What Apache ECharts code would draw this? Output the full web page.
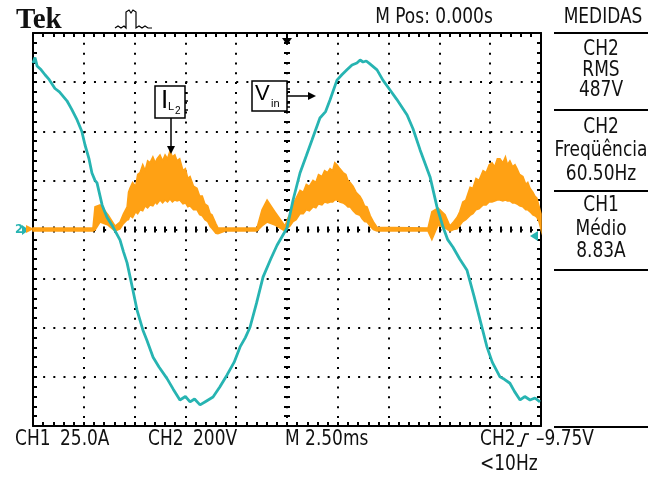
<!DOCTYPE html>
<html>
<head>
<meta charset="utf-8">
<script src="https://cdn.jsdelivr.net/npm/echarts@6/dist/echarts.min.js"></script>
<style>
  html, body { margin: 0; padding: 0; background: #fff; }
  #scope { width: 658px; height: 477px; }
</style>
</head>
<body>
<div id="scope"></div>
<script>
// CH2 - Vin (V), time in ms
const vinTime = [0, 0.1, 0.2, 0.4, 0.59, 0.8, 1.08, 1.3, 1.67, 1.9, 2.17, 2.4, 2.56, 2.75, 2.9, 3.05, 3.15, 3.4, 3.64, 3.94, 4.28, 4.45, 4.63, 4.9, 5.12, 5.41, 5.6, 5.91, 6.2, 6.59, 6.9, 7.23, 7.5, 7.73, 7.95, 8.22, 8.5, 8.86, 9.2, 9.55, 9.9, 10.19, 10.45, 10.68, 11.0, 11.32, 11.7, 12.01, 12.5, 12.8, 13.14, 13.45, 13.73, 14.12, 14.4, 14.62, 14.96, 15.2, 15.45, 15.7, 15.94, 16.1, 16.24, 16.4, 16.58, 16.93, 17.22, 17.57, 17.9, 18.41, 18.7, 19.05, 19.54, 19.88, 20.18, 20.4, 20.67, 21.0, 21.36, 21.7, 22.0, 22.34, 22.6, 22.98, 23.2, 23.47, 23.7, 23.97, 24.2, 24.46, 24.7, 24.95]
const vinVolts = [678, 700, 666, 650, 630, 610, 574, 560, 524, 490, 446, 400, 344, 290, 230, 200, 190, 100, 50, 10, -42, -90, -136, -240, -328, -410, -450, -520, -560, -606, -650, -694, -680, -702, -690, -714, -700, -682, -640, -592, -540, -478, -440, -398, -300, -194, -120, -64, 6, 120, 230, 300, 364, 454, 480, 528, 608, 630, 650, 670, 678, 690, 682, 686, 674, 650, 608, 568, 530, 466, 410, 324, 214, 92, 10, -40, -72, -120, -166, -270, -368, -478, -540, -600, -610, -626, -660, -694, -680, -694, -686, -702]

// CH1 - I_L2 (A), upper / lower edge of the switching ripple band
const ilTime = [0, 2.95, 3.05, 3.3, 3.69, 4.04, 4.28, 4.45, 4.63, 4.7, 4.77, 4.9, 5.05, 5.15, 5.27, 5.4, 5.52, 5.64, 5.76, 5.9, 6.02, 6.1, 6.25, 6.38, 6.5, 6.62, 6.74, 6.86, 6.98, 7.09, 7.22, 7.38, 7.5, 7.62, 7.73, 7.9, 8.07, 8.2, 8.33, 8.46, 8.6, 8.72, 8.81, 9.0, 9.1, 9.45, 11.02, 11.27, 11.52, 11.91, 12.4, 12.55, 12.65, 12.8, 12.95, 13.14, 13.3, 13.45, 13.6, 13.78, 13.92, 14.05, 14.22, 14.35, 14.5, 14.62, 14.75, 14.85, 14.96, 15.1, 15.26, 15.4, 15.5, 15.6, 15.75, 15.9, 16.09, 16.2, 16.32, 16.44, 16.6, 16.75, 16.93, 19.44, 19.63, 19.93, 20.28, 20.52, 20.7, 20.87, 21.0, 21.15, 21.3, 21.51, 21.65, 21.8, 21.95, 22.15, 22.3, 22.45, 22.59, 22.72, 22.85, 22.98, 23.12, 23.25, 23.35, 23.47, 23.6, 23.72, 23.82, 23.95, 24.11, 24.25, 24.35, 24.46, 24.6, 24.7, 24.8, 24.9, 25]
const ilUpper = [0.8, 0.8, 11.5, 12.5, 7.5, 1.8, 3.8, 8, 11.5, 19, 21, 24, 22, 28, 29, 33, 30, 35, 34, 37, 34, 36, 38, 35, 38, 36, 40, 37, 38, 35, 36, 30, 31, 26, 27, 22, 21, 17, 17, 13, 12, 8, 7.5, 3, 0.8, 0.8, 0.8, 10, 15, 9, 1.8, 6, 8, 13, 16, 20, 19, 23, 22, 25, 24, 28, 27, 30, 29, 31, 30, 34, 33, 31, 29, 28, 25, 24, 22, 19, 17, 15, 12, 11.5, 7, 4, 1.2, 0.8, 9, 11, 7.5, 1.8, 4, 6.2, 9, 14, 15, 21.5, 21, 26, 25, 30, 29, 33, 34, 32, 36, 36, 34, 37, 33, 35, 32, 33, 31, 28, 27, 23, 24, 21, 19, 17, 16, 12, 8]
const ilLower = [-0.8, -0.8, -0.3, 3.8, 2.2, -0.8, 0.3, 3, 4.8, 5, 7, 6, 9, 8, 10, 9.5, 12, 11, 12.5, 12, 14, 13, 15, 13.5, 15, 14, 15.5, 14, 15, 14.5, 15, 13, 13.5, 11.5, 12, 10, 10, 7.5, 7, 5, 4, 1.5, 0.5, -2, -2.2, -0.8, -0.8, 1.8, 3.8, 2.2, -0.8, 1, 1.8, 4, 5, 8, 8, 10, 9.5, 11.5, 11, 13, 12.5, 14, 13.5, 14, 14, 15, 15, 14, 13.5, 12.5, 11.5, 11.5, 9.5, 8, 7.2, 5.5, 4, 3.8, 1.5, 0, -0.8, -0.8, -5.2, 2.2, 0.8, -0.8, 0, 0.3, 2, 4, 5, 7.2, 8, 10, 10.5, 12.5, 12.5, 14, 14, 14.5, 15, 15, 14.5, 15, 14.5, 14.5, 13.5, 13.5, 13, 12, 11.5, 10, 10, 9, 7.5, 7, 6.2, 4, 0]

// scope settings
const msPerDiv = 2.5
const ampsPerDiv = 25
const voltsPerDiv = 200

const teal = '#27b4b2'
const orange = '#ffa114'
const narrow = 'Liberation Sans Narrow, DejaVu Sans Condensed, sans-serif'
const plain = 'Liberation Sans, Arial, sans-serif'

let chart = echarts.init(document.getElementById('scope'))

function frameX (pos) {
  return {
    type: 'value', min: 0, max: msPerDiv * 10, interval: msPerDiv, position: pos,
    axisLine: { show: true, onZero: false, lineStyle: { color: '#000', width: 2 } },
    axisTick: { show: true, inside: true, length: 4, lineStyle: { color: '#000', width: 2 } },
    minorTick: { show: true, splitNumber: 5, length: 4, lineStyle: { color: '#000', width: 2 } },
    axisLabel: { show: false },
    splitLine: { show: pos === 'bottom', lineStyle: { color: '#000', width: 2, type: [2, 7.82] } }
  }
}
function frameY (pos, perDiv) {
  return {
    type: 'value', min: -4 * perDiv, max: 4 * perDiv, interval: perDiv, position: pos,
    axisLine: { show: true, onZero: false, lineStyle: { color: '#000', width: 2 } },
    axisTick: { show: true, inside: true, length: 4, lineStyle: { color: '#000', width: 2 } },
    minorTick: { show: true, splitNumber: 5, length: 4, lineStyle: { color: '#000', width: 2 } },
    axisLabel: { show: false },
    splitLine: { show: pos === 'left', lineStyle: { color: '#000', width: 2, type: [2, 8.16] } }
  }
}
// center cross ticks (two axes each, ticks on both sides of the line)
function centerX (inside) {
  return {
    type: 'value', min: 0, max: msPerDiv * 10, interval: msPerDiv, position: 'bottom', offset: -196.5,
    axisLine: { show: false, onZero: false },
    axisTick: { show: true, inside: inside, length: 3, lineStyle: { color: '#000', width: 2 } },
    minorTick: { show: true, splitNumber: 5, length: 3, lineStyle: { color: '#000', width: 2 } },
    axisLabel: { show: false }, splitLine: { show: false }
  }
}
function centerY (inside) {
  return {
    type: 'value', min: -4 * ampsPerDiv, max: 4 * ampsPerDiv, interval: ampsPerDiv, position: 'left', offset: -254,
    axisLine: { show: false, onZero: false },
    axisTick: { show: true, inside: inside, length: 3, lineStyle: { color: '#000', width: 2 } },
    minorTick: { show: true, splitNumber: 5, length: 3, lineStyle: { color: '#000', width: 2 } },
    axisLabel: { show: false }, splitLine: { show: false }
  }
}

function txt (x, y, text, size, family, align, color, weight, sx) {
  return {
    type: 'text', x: x, y: y, z: 50, scaleX: sx || 1,
    style: {
      text: text, fontSize: size, fontFamily: family || narrow, fontWeight: weight || 'normal',
      fill: color || '#000', align: align || 'left', verticalAlign: 'middle'
    }
  }
}
// scope readout text: tall condensed look
function scopeTxt (x, y, text, align) {
  return txt(x, y, text, 21, narrow, align, '#111', 'normal', 0.9)
}
function hline (x1, x2, y) {
  return { type: 'line', z: 50, shape: { x1: x1, y1: y, x2: x2, y2: y }, style: { stroke: '#000', lineWidth: 2 } }
}

let graphics = [
  txt(16, 21, 'Tek', 29, 'Liberation Serif, serif', 'left', '#111', 'bold'),
  { type: 'polyline', z: 50, shape: { points: [[115, 28], [118, 26], [121, 28], [124, 26], [126, 28], [126, 12], [129, 10], [131, 13], [133, 10], [136, 12], [136, 28], [139, 26], [142, 28], [145, 26], [148, 28], [152, 28]] }, style: { stroke: '#000', lineWidth: 1.2, fill: null } },
  scopeTxt(434, 18, 'M Pos: 0.000s', 'center'),
  scopeTxt(603, 18, 'MEDIDAS', 'center'),
  hline(554, 648, 33),
  scopeTxt(601, 50, 'CH2', 'center'),
  scopeTxt(601, 71, 'RMS', 'center'),
  scopeTxt(601, 91, '487V', 'center'),
  hline(554, 648, 110),
  scopeTxt(601, 128, 'CH2', 'center'),
  scopeTxt(601, 151, 'Freqüência', 'center'),
  scopeTxt(601, 175, '60.50Hz', 'center'),
  hline(554, 648, 191),
  scopeTxt(601, 206, 'CH1', 'center'),
  scopeTxt(601, 230, 'Médio', 'center'),
  scopeTxt(601, 252, '8.83A', 'center'),
  hline(554, 648, 270),
  hline(554, 648, 427),
  scopeTxt(15, 440, 'CH1'), scopeTxt(60, 440, '25.0A'),
  scopeTxt(148, 440, 'CH2'), scopeTxt(193, 440, '200V'),
  scopeTxt(285, 440, 'M 2.50ms'),
  scopeTxt(480, 440, 'CH2'),
  { type: 'polyline', z: 50, shape: { points: [[517, 446], [521, 446], [525, 434], [529, 434]] }, style: { stroke: '#000', lineWidth: 1.5, fill: null } },
  scopeTxt(536, 440, '–9.75V'),
  scopeTxt(480, 465, '<10Hz'),
  // trigger position marker
  { type: 'polygon', z: 50, shape: { points: [[282, 38], [292, 38], [287, 45]] }, style: { fill: '#000' } },
  { type: 'line', z: 50, shape: { x1: 287, y1: 34, x2: 287, y2: 39 }, style: { stroke: '#000', lineWidth: 2 } },
  // channel ground markers
  txt(15, 230, '2', 13, narrow, 'left', teal, 'bold'),
  { type: 'polygon', z: 50, shape: { points: [[22, 225], [29, 230], [22, 235]] }, style: { fill: teal } },
  { type: 'polygon', z: 51, shape: { points: [[26, 225], [34, 229], [26, 233]] }, style: { fill: orange } },
  { type: 'polygon', z: 50, shape: { points: [[530, 236], [538, 231], [538, 241]] }, style: { fill: teal } },
  // I_L2 label
  { type: 'rect', z: 50, shape: { x: 155, y: 86, width: 30, height: 32 }, style: { fill: '#fff', stroke: '#000', lineWidth: 1.5 } },
  txt(161, 101, 'I', 26, plain),
  txt(168, 107, 'L', 11, plain),
  txt(175, 111, '2', 10, plain),
  { type: 'line', z: 50, shape: { x1: 171, y1: 118, x2: 171, y2: 147 }, style: { stroke: '#000', lineWidth: 1.5 } },
  { type: 'polygon', z: 50, shape: { points: [[167, 146], [175, 146], [171, 154]] }, style: { fill: '#000' } },
  // V_in label
  { type: 'rect', z: 50, shape: { x: 252, y: 81, width: 35, height: 30 }, style: { fill: '#fff', stroke: '#000', lineWidth: 1.5 } },
  txt(255, 94, 'V', 22, plain),
  txt(271, 104, 'in', 11, plain),
  { type: 'line', z: 50, shape: { x1: 287, y1: 96, x2: 309, y2: 96 }, style: { stroke: '#000', lineWidth: 1.5 } },
  { type: 'polygon', z: 50, shape: { points: [[308, 92], [316, 96], [308, 100]] }, style: { fill: '#000' } }
]
// connector pins on the label boxes
;[[185, 93], [185, 101], [185, 110], [287, 89], [287, 103], [287, 107]].forEach(function (p) {
  graphics.push({ type: 'line', z: 50, shape: { x1: p[0], y1: p[1], x2: p[0] + 3, y2: p[1] }, style: { stroke: '#000', lineWidth: 1.5 } })
})

let option = {
  backgroundColor: '#fff',
  animation: false,
  grid: { left: 33, top: 33, width: 508, height: 393, containLabel: false },
  xAxis: [frameX('bottom'), frameX('top'), centerX(true), centerX(false)],
  yAxis: [frameY('left', ampsPerDiv), frameY('right', voltsPerDiv), centerY(true), centerY(false)],
  graphic: graphics,
  series: [
    {
      name: 'I_L2',
      type: 'custom',
      xAxisIndex: 0,
      yAxisIndex: 0,
      z: 2,
      data: [[0, 0]],
      renderItem: function (params, api) {
        let pts = []
        ilTime.forEach(function (t, i) { pts.push(api.coord([t, ilUpper[i]])) })
        for (let i = ilTime.length - 1; i >= 0; i--) pts.push(api.coord([ilTime[i], ilLower[i]]))
        return {
          type: 'polygon',
          shape: { points: pts },
          style: { fill: orange, stroke: orange, lineWidth: 1.5 }
        }
      }
    },
    {
      name: 'Vin',
      type: 'line',
      xAxisIndex: 0,
      yAxisIndex: 1,
      z: 3,
      showSymbol: false,
      data: vinTime.map(function (t, i) { return [t, vinVolts[i]] }),
      lineStyle: { color: teal, width: 2.8 }
    }
  ]
}
chart.setOption(option)
</script>
</body>
</html>
